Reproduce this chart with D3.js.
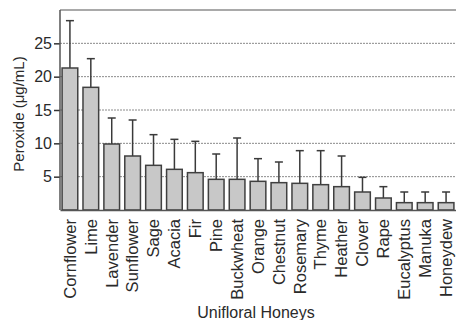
<!DOCTYPE html>
<html>
<head>
<meta charset="utf-8">
<script src="https://cdn.jsdelivr.net/npm/d3@7"></script>
<style>
  body { margin: 0; background: #fff; }
  svg { display: block; font-family: 'Liberation Sans', Arial, sans-serif; }
</style>
</head>
<body>
<div id="chart"></div>
<script>
const honeys = ['Cornflower', 'Lime', 'Lavender', 'Sunflower', 'Sage', 'Acacia', 'Fir', 'Pine',
  'Buckwheat', 'Orange', 'Chestnut', 'Rosemary', 'Thyme', 'Heather', 'Clover', 'Rape',
  'Eucalyptus', 'Manuka', 'Honeydew'];
const peroxide = [21.3, 18.4, 9.9, 8.1, 6.7, 6.1, 5.6, 4.6, 4.6, 4.3, 4.1, 4.0, 3.8, 3.5, 2.7, 1.8, 1.1, 1.1, 1.1];
const upperError = [28.4, 22.7, 13.8, 13.5, 11.3, 10.6, 10.3, 8.4, 10.8, 7.7, 7.2, 8.9, 8.9, 8.1, 4.9, 3.5, 2.7, 2.7, 2.7];
const yTicks = [5, 10, 15, 20, 25];

const width = 456;
const height = 320;
const margin = { top: 10, right: 0, bottom: 110, left: 60 };
const textColor = '#2a2a2a';

const svg = d3.select('#chart')
  .append('svg')
  .attr('width', width)
  .attr('height', height);

const x = d3.scaleBand()
  .domain(honeys)
  .range([margin.left, width - margin.right])
  .paddingInner(0.25)
  .paddingOuter(0.1);

const y = d3.scaleLinear()
  .domain([0, 30])
  .range([height - margin.bottom, margin.top]);

// dotted grid
svg.append('g')
  .selectAll('line')
  .data(yTicks)
  .join('line')
  .attr('x1', margin.left)
  .attr('x2', width)
  .attr('y1', d => y(d))
  .attr('y2', d => y(d))
  .attr('stroke', '#8a8a8a')
  .attr('stroke-width', 1)
  .attr('stroke-dasharray', '2,1');

// top frame
svg.append('line')
  .attr('x1', margin.left)
  .attr('x2', width)
  .attr('y1', y(30))
  .attr('y2', y(30))
  .attr('stroke', '#8c8c8c')
  .attr('stroke-width', 1.5);

// error bars (upper only)
const err = svg.append('g')
  .attr('stroke', '#3a3a3a')
  .attr('stroke-width', 1.5);

err.selectAll('line.stem')
  .data(honeys)
  .join('line')
  .attr('class', 'stem')
  .attr('x1', d => x(d) + x.bandwidth() / 2)
  .attr('x2', d => x(d) + x.bandwidth() / 2)
  .attr('y1', (d, i) => y(peroxide[i]))
  .attr('y2', (d, i) => y(upperError[i]));

err.selectAll('line.cap')
  .data(honeys)
  .join('line')
  .attr('class', 'cap')
  .attr('x1', d => x(d) + x.bandwidth() / 2 - 4)
  .attr('x2', d => x(d) + x.bandwidth() / 2 + 4)
  .attr('y1', (d, i) => y(upperError[i]))
  .attr('y2', (d, i) => y(upperError[i]));

// bars
svg.append('g')
  .selectAll('rect')
  .data(honeys)
  .join('rect')
  .attr('x', d => x(d))
  .attr('y', (d, i) => y(peroxide[i]))
  .attr('width', x.bandwidth())
  .attr('height', (d, i) => y(0) - y(peroxide[i]))
  .attr('fill', '#c8c8c8')
  .attr('stroke', '#404040')
  .attr('stroke-width', 1.5);

// y axis
const yAxis = svg.append('g')
  .attr('transform', `translate(${margin.left},0)`)
  .call(d3.axisLeft(y).tickValues(yTicks).tickSize(6).tickPadding(2));
yAxis.select('.domain').remove();
yAxis.selectAll('.tick line').attr('stroke', '#333').attr('stroke-width', 1.5);
yAxis.selectAll('.tick text')
  .attr('font-size', 16)
  .attr('fill', textColor)
  .style('font-family', "'Liberation Sans', Arial, sans-serif");

svg.append('line')
  .attr('x1', margin.left)
  .attr('x2', margin.left)
  .attr('y1', y(30))
  .attr('y2', y(0))
  .attr('stroke', '#555')
  .attr('stroke-width', 1.5);

// x axis
const xAxis = svg.append('g')
  .attr('transform', `translate(0,${y(0)})`)
  .call(d3.axisBottom(x).tickSize(0));
xAxis.select('.domain').attr('stroke', '#555').attr('stroke-width', 1.5);
xAxis.selectAll('.tick text')
  .attr('transform', 'rotate(-90)')
  .attr('x', -9)
  .attr('y', 0)
  .attr('dy', '0.35em')
  .attr('text-anchor', 'end')
  .attr('font-size', 16.5)
  .attr('fill', textColor)
  .style('font-family', "'Liberation Sans', Arial, sans-serif");

// axis titles
svg.append('text')
  .attr('transform', `translate(24,${(y(0) + y(30)) / 2 + 4}) rotate(-90)`)
  .attr('text-anchor', 'middle')
  .attr('font-size', 15)
  .attr('fill', textColor)
  .text('Peroxide (μg/mL)');

svg.append('text')
  .attr('x', 256)
  .attr('y', 318)
  .attr('text-anchor', 'middle')
  .attr('font-size', 16)
  .attr('fill', textColor)
  .text('Unifloral Honeys');
</script>
</body>
</html>
